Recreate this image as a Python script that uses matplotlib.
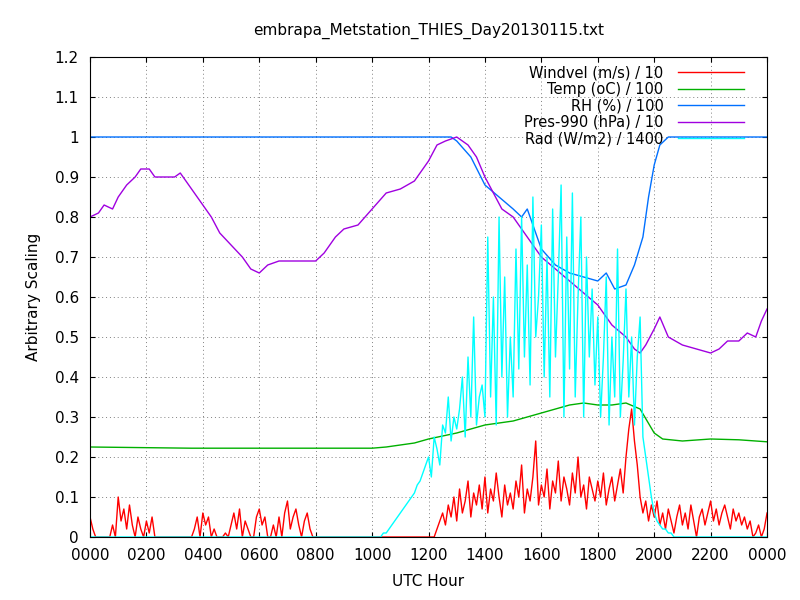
import numpy as np
import matplotlib
matplotlib.use("Agg")
import matplotlib.pyplot as plt

# Windvel (m/s)/10 in hundredths, 0.1 h steps from 0.0 to 24.0
wind = ([5,2,0,0,0,0,0,0,3,0, 10,4,7,2,8,3,0,5,2,0, 4,1,5,0,0,0,0,0,0,0,
         0,0,0,0,0,0,0,2,5,0, 6,3,5,0,2,0,0,0,1,0, 3,6,2,7,0,4,2,0,0,5,
         7,3,5,0,0,3,0,5,0,6, 9,2,5,7,3,0,4,6,2,0] + [0]*43 +
        [2,4,6,3,8,5,10,
         4,12,6,9,14,5,11,8,13,7, 15,6,12,9,16,10,5,13,8,11,
         7,14,10,18,6,12,9,15,24,8, 13,10,17,7,14,11,19,9,15,12,
         8,16,11,20,10,13,7,15,12,9, 14,10,16,8,12,15,9,13,17,11,
         20,27,32,24,18,10,6,9,4,8, 5,9,3,6,2,7,4,1,5,8,
         3,6,2,8,4,0,5,7,3,6, 9,4,7,3,6,8,5,2,7,4,
         6,3,5,2,4,0,1,3,0,2, 6])
# Rad (W/m2)/1400 in hundredths, 0.1 h steps
rad = ([0]*100 +
       [0,0,0,0,1,1,2,3,4,5,6,7,8,9,10,11,13,14,16,18] +
       [20,15,25,22,18,28,26,35,24,30, 27,32,40,25,45,30,55,28,35,38,
        30,75,35,60,28,80,40,65,30,50, 35,72,42,80,45,68,38,85,50,60,
        78,40,70,35,82,45,65,88,30,75, 42,86,35,60,80,30,70,45,62,38,
        55,30,45,65,28,50,35,72,30,44, 62,35,50,28,45,55,25,20,15,10] +
       [6,4,3,2,2,1,1,0,0,0] + [0]*31)

temp_h = [0, 3.6, 10, 10.5, 11.5, 12, 13, 14, 15, 16, 16.5, 17, 17.5, 18, 18.5, 19, 19.5, 20, 20.3, 21, 22, 23, 24]
temp_v = [0.225, 0.222, 0.222, 0.225, 0.235, 0.245, 0.26, 0.28, 0.29, 0.31, 0.32, 0.33, 0.335, 0.33, 0.33, 0.335, 0.32, 0.26, 0.245, 0.24, 0.245, 0.243, 0.238]

rh_h = [0, 12.8, 13.0, 13.5, 14.0, 14.5, 15.0, 15.3, 15.5, 15.8, 16.0, 16.5, 17.0, 17.5, 18.0, 18.3, 18.6, 19.0, 19.3, 19.6, 19.8, 20.0, 20.2, 20.5, 24]
rh_v = [1.0, 1.0, 0.99, 0.95, 0.88, 0.85, 0.82, 0.80, 0.82, 0.76, 0.72, 0.68, 0.66, 0.65, 0.64, 0.66, 0.62, 0.63, 0.68, 0.75, 0.85, 0.93, 0.98, 1.0, 1.0]

pres_h = [0, 0.3, 0.5, 0.8, 1.0, 1.3, 1.6, 1.8, 2.1, 2.3, 3.0, 3.2, 3.4, 3.7, 4.0, 4.3, 4.6, 5.0, 5.4, 5.7, 6.0, 6.3, 6.7, 7.5, 8.0, 8.3, 8.7, 9.0, 9.5, 10.0, 10.5, 11.0, 11.5, 12.0, 12.3, 12.6, 13.0, 13.4, 13.7, 14.0, 14.3, 14.6, 15.0, 15.3, 15.6, 16.0, 16.5, 17.0, 17.5, 18.0, 18.5, 19.0, 19.3, 19.5, 19.7, 20.0, 20.2, 20.5, 21.0, 21.5, 22.0, 22.3, 22.6, 23.0, 23.3, 23.6, 23.8, 24.0]
pres_v = [0.80, 0.81, 0.83, 0.82, 0.85, 0.88, 0.90, 0.92, 0.92, 0.90, 0.90, 0.91, 0.89, 0.86, 0.83, 0.80, 0.76, 0.73, 0.70, 0.67, 0.66, 0.68, 0.69, 0.69, 0.69, 0.71, 0.75, 0.77, 0.78, 0.82, 0.86, 0.87, 0.89, 0.94, 0.98, 0.99, 1.0, 0.98, 0.95, 0.90, 0.86, 0.82, 0.80, 0.77, 0.74, 0.70, 0.67, 0.64, 0.61, 0.58, 0.53, 0.50, 0.47, 0.46, 0.48, 0.52, 0.55, 0.50, 0.48, 0.47, 0.46, 0.47, 0.49, 0.49, 0.51, 0.50, 0.54, 0.57]

tick_labels = ["0000","0200","0400","0600","0800","1000","1200","1400","1600","1800","2000","2200","0000"]

t = np.arange(len(wind)) * 0.1
fig = plt.figure(figsize=(8, 6), dpi=100)
ax = fig.add_axes([0.1125, 0.105, 0.8463, 0.8])
lw = 1.0
ax.plot(t, np.array(wind)/100, color="red", lw=lw, label="Windvel (m/s) / 10")
ax.plot(temp_h, temp_v, color="#00b000", lw=lw, label="Temp (oC) / 100")
ax.plot(rh_h, rh_v, color="#0070ff", lw=lw, label="RH (%) / 100")
ax.plot(pres_h, pres_v, color="#a000e0", lw=lw, label="Pres-990 (hPa) / 10")
ax.plot(t, np.array(rad)/100, color="cyan", lw=lw, label="Rad (W/m2) / 1400")

ax.set_xlim(0, 24)
ax.set_ylim(0, 1.2)
ax.set_xticks(np.arange(0, 25, 2))
ax.set_xticklabels(tick_labels)
ax.set_yticks(np.arange(0, 1.21, 0.1))
ax.set_yticklabels(["0","0.1","0.2","0.3","0.4","0.5","0.6","0.7","0.8","0.9","1","1.1","1.2"])
ax.tick_params(direction="in", labelsize=11, top=True, right=True)
ax.tick_params(axis="x", pad=8)
ax.tick_params(axis="y", pad=8)
ax.grid(True, linestyle=(0, (1, 3)), color="gray", lw=0.7)
ax.set_xlabel("UTC Hour", fontsize=11, labelpad=8)
ax.set_ylabel("Arbitrary Scaling", fontsize=11, labelpad=10)
ax.set_title("embrapa_Metstation_THIES_Day20130115.txt", fontsize=11, pad=16)
leg = ax.legend(loc="upper right", frameon=False, markerfirst=False, fontsize=10.5,
                handlelength=4.5, handletextpad=1.0, labelspacing=0.1,
                bbox_to_anchor=(0.985, 1.01))
for tx in leg.get_texts():
    tx.set_ha("right")
fig.savefig("out.png")
